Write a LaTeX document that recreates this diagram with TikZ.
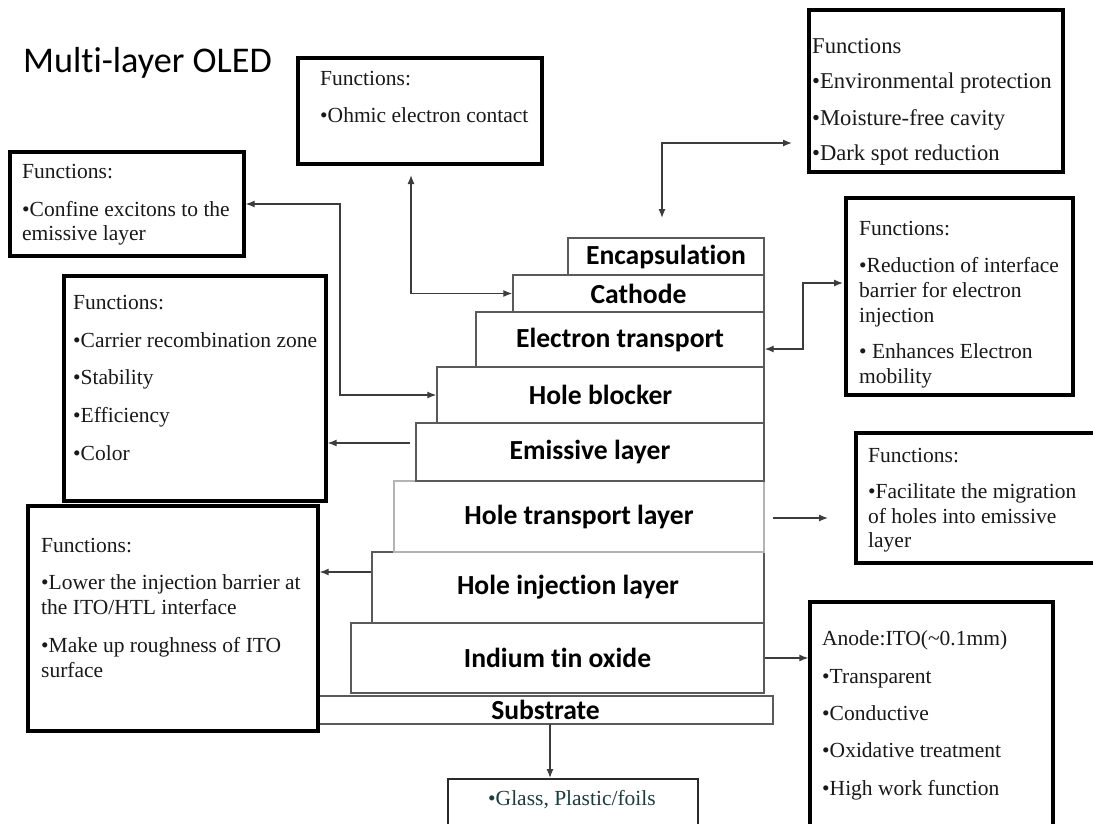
\documentclass[tikz,border=0pt]{standalone}
\usepackage{fontspec}
\setmainfont{Liberation Serif}
\newfontfamily\calib[Ligatures=NoCommon]{Carlito}
\usetikzlibrary{arrows.meta}
\definecolor{layerline}{HTML}{5A5A5A}
\definecolor{htlline}{HTML}{B4B4B4}
\definecolor{arrowc}{HTML}{3C3C3C}
\definecolor{subtext}{HTML}{1E3C3C}
\definecolor{subline}{HTML}{2A2A2A}
\begin{document}
\begin{tikzpicture}[x=1pt,y=-1pt,
  layer/.style={draw=layerline, line width=1.4pt, fill=white, inner sep=0pt, font=\calib\bfseries\fontsize{27.6}{29}\selectfont},
  fbox/.style={draw=black, line width=3.3pt, fill=white, inner sep=0pt},
  ftxt/.style={inner sep=0pt, anchor=base west, text=black!90, font=\fontsize{21.5}{24}\selectfont},
  ftxtb/.style={ftxt, font=\fontsize{22.6}{25}\selectfont},
  conn/.style={draw=arrowc, line width=1.3pt},
  tip/.style={-{Latex[length=9pt,width=7pt]}},
  dtip/.style={{Latex[length=9pt,width=7pt]}-{Latex[length=9pt,width=7pt]}}
]
\useasboundingbox (0,0) rectangle (1093,823);
\clip (0,0) rectangle (1093,823);
\fill[white] (0,0) rectangle (1093,823);

% title
\node[inner sep=0pt, anchor=base west, font=\calib\fontsize{36.2}{40}\selectfont] (title) at (23,72) {Multi-layer OLED};

% layer stack
\node[layer, minimum width=455pt, minimum height=28pt] (sub) at (545.5,710) {Substrate};
\node[layer, minimum width=413pt, minimum height=70pt] (ito) at (557.5,658) {Indium tin oxide};
\node[layer, minimum width=392pt, minimum height=71pt] (hil) at (568,587.5) {Hole injection layer};
\node[layer, draw=htlline, minimum width=370pt, minimum height=71pt] (htl) at (579,516.5) {Hole transport layer};
\node[layer, minimum width=348pt, minimum height=58pt] (eml) at (590,452) {Emissive layer};
\node[layer, minimum width=327pt, minimum height=56pt] (hbl) at (600.5,395) {Hole blocker};
\node[layer, minimum width=288pt, minimum height=55pt] (etl) at (620,339.5) {Electron transport};
\node[layer, minimum width=251pt, minimum height=37pt] (cathode) at (638.5,293.5) {Cathode};
\node[layer, minimum width=196pt, minimum height=37pt] (encap) at (666,256.5) {Encapsulation};

% function boxes
\node[fbox, minimum width=244pt, minimum height=106pt] (fOhm) at (420,111) {};
\node[fbox, minimum width=234pt, minimum height=104pt] (fConf) at (127,204) {};
\node[fbox, minimum width=254pt, minimum height=162pt] (fEnc) at (936,91) {};
\node[fbox, minimum width=227pt, minimum height=197pt] (fETL) at (959.5,296.5) {};
\node[fbox, minimum width=262pt, minimum height=225pt] (fEML) at (195,388.5) {};
\node[fbox, minimum width=254pt, minimum height=130pt] (fHTL) at (983,498) {};
\node[fbox, minimum width=243pt, minimum height=248pt] (fITO) at (931.5,726) {};
\node[fbox, minimum width=290pt, minimum height=225pt] (fHIL) at (173,618.5) {};
\node[fbox, draw=subline, line width=2pt, minimum width=250pt, minimum height=71pt] (fSub) at (573,814.5) {};

% texts
\node[ftxt] (tOhm1) at (320,85) {Functions:};
\node[ftxt] (tOhm2) at (320,122) {•Ohmic electron contact};

\node[ftxt] (tConf1) at (22,178) {Functions:};
\node[ftxt] (tConf2) at (22,216) {•Confine excitons to the};
\node[ftxt] (tConf3) at (22,240) {emissive layer};

\node[ftxtb] (tEnc1) at (812,53) {Functions};
\node[ftxtb] (tEnc2) at (812,88) {•Environmental protection};
\node[ftxtb] (tEnc3) at (812,125) {•Moisture-free cavity};
\node[ftxtb] (tEnc4) at (812,160) {•Dark spot reduction};

\node[ftxt] (tEtl1) at (859,235) {Functions:};
\node[ftxt] (tEtl2) at (859,272) {•Reduction of interface};
\node[ftxt] (tEtl3) at (859,297) {barrier for electron};
\node[ftxt] (tEtl4) at (859,322) {injection};
\node[ftxt] (tEtl5) at (859,358) {• Enhances Electron};
\node[ftxt] (tEtl6) at (859,383) {mobility};

\node[ftxt] (tEml1) at (73,309) {Functions:};
\node[ftxt] (tEml2) at (73,347) {•Carrier recombination zone};
\node[ftxt] (tEml3) at (73,384) {•Stability};
\node[ftxt] (tEml4) at (73,422) {•Efficiency};
\node[ftxt] (tEml5) at (73,460) {•Color};

\node[ftxt] (tHtl1) at (868,462) {Functions:};
\node[ftxt] (tHtl2) at (868,498) {•Facilitate the migration};
\node[ftxt] (tHtl3) at (868,523) {of holes into emissive};
\node[ftxt] (tHtl4) at (868,547) {layer};

\node[ftxt] (tIto1) at (822,645) {Anode:ITO(\textasciitilde0.1mm)};
\node[ftxt] (tIto2) at (822,683) {•Transparent};
\node[ftxt] (tIto3) at (822,720) {•Conductive};
\node[ftxt] (tIto4) at (822,757) {•Oxidative treatment};
\node[ftxt] (tIto5) at (822,795) {•High work function};

\node[ftxt] (tHil1) at (41,552) {Functions:};
\node[ftxt] (tHil2) at (41,589) {•Lower the injection barrier at};
\node[ftxt] (tHil3) at (41,614) {the ITO/HTL interface};
\node[ftxt] (tHil4) at (41,652) {•Make up roughness of ITO};
\node[ftxt] (tHil5) at (41,677) {surface};

\node[ftxt, anchor=base, text=subtext] (tSub) at (572,805) {•Glass, Plastic/foils};

% connectors
\coordinate (cOhmTip) at (411,175);
\draw[conn,dtip] (cOhmTip) |- (cathode.west);

\coordinate (cConf) at (340,300);
\draw[conn,dtip] (fConf.east) -| (cConf) |- (hbl.west);

\coordinate (cEncA) at (662,218);
\coordinate (cEncB) at (792,143);
\draw[conn,dtip] (cEncA) |- (cEncB);

\coordinate (cEtlA) at (843,283);
\coordinate (cEtlM) at (803,320);
\coordinate (cEtlY) at (700,349);
\draw[conn,dtip] (cEtlA) -| (cEtlM) |- (etl.east |- cEtlY);

\coordinate (cEml) at (410,443);
\draw[conn,tip] (cEml) -- (cEml -| fEML.east);

\coordinate (cHil) at (372,572);
\draw[conn,tip] (cHil -| hil.west) -- (cHil -| fHIL.east);

\coordinate (cHtlA) at (773,518);
\coordinate (cHtlB) at (828,518);
\draw[conn,tip] (cHtlA) -- (cHtlB);

\draw[conn,tip] (ito.east) -- (ito.east -| fITO.west);

\coordinate (cSub) at (550,724);
\draw[conn,tip] (cSub) -- (cSub |- fSub.north);
\end{tikzpicture}
\end{document}
